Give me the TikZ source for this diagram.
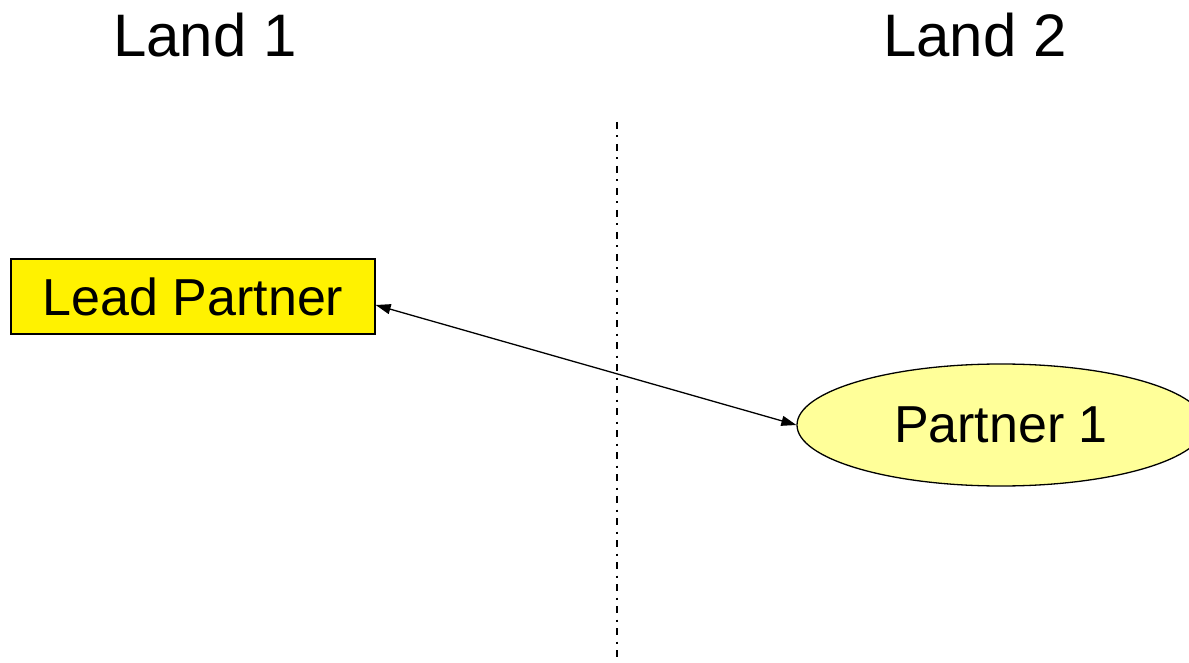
\documentclass[tikz,border=0pt]{standalone}
\usepackage{fontspec}
\setmainfont{Liberation Sans}
\usetikzlibrary{arrows.meta,shapes.geometric}
\definecolor{paleyellow}{HTML}{FFFF99}
\begin{document}
\begin{tikzpicture}[x=1pt,y=-1pt,
  title/.style={font=\fontsize{60}{72}\selectfont, inner sep=0pt, anchor=base},
  boxtext/.style={font=\fontsize{52}{62}\selectfont},
  conn/.style={line width=1.3pt, {Triangle[length=15pt,width=10pt]}-{Triangle[length=15pt,width=10pt]}},
  divider/.style={line width=1.6pt, dash pattern=on 7pt off 6.5pt on 2pt off 6.5pt}]
\useasboundingbox (0,0) rectangle (1189,663);
\node[title] (l1) at (205,57) {Land 1};
\node[title] (l2) at (975,57) {Land 2};
\coordinate (dtop) at (617,122);
\coordinate (dbot) at (617,663);
\draw[divider] (dtop) -- (dbot);
\node[draw, line width=1.3pt, fill=yellow, minimum width=364pt, minimum height=75pt, inner sep=0pt, boxtext] (lp) at (193,296.5) {Lead Partner};
\node[draw, ellipse, line width=1.3pt, fill=paleyellow, minimum width=408pt, minimum height=122pt, inner sep=0pt, boxtext] (p1) at (1001,425) {Partner 1};
\draw[conn] ([yshift=-8.5pt]lp.east) -- (p1.west);
\end{tikzpicture}
\end{document}
